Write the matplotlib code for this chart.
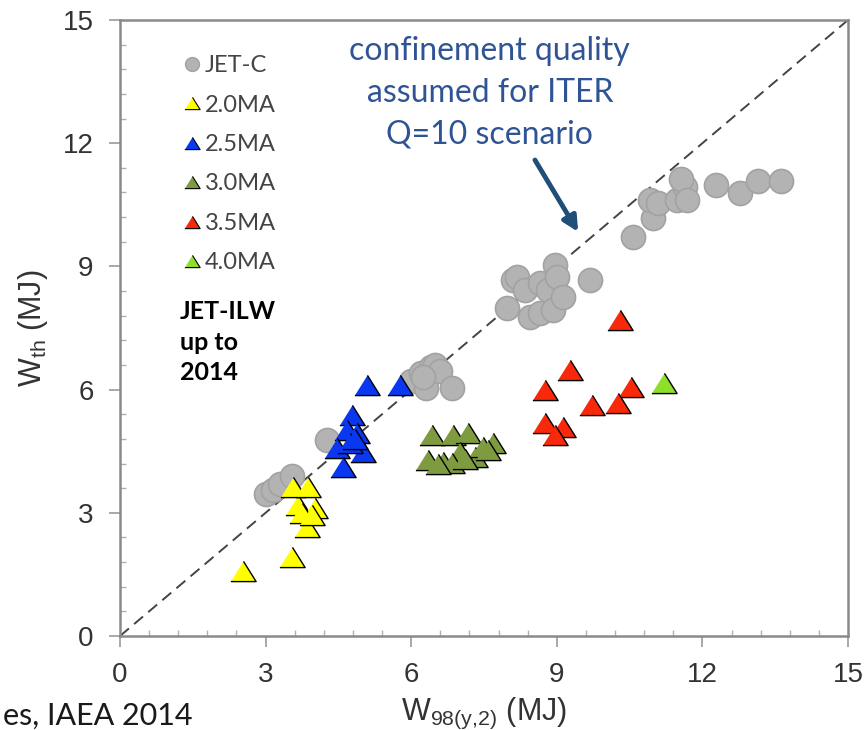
import matplotlib
matplotlib.use("Agg")
import matplotlib.pyplot as plt
from matplotlib.lines import Line2D
import numpy as np

plt.rcParams['font.family'] = ['Liberation Sans', 'DejaVu Sans']
plt.rcParams['mathtext.fontset'] = 'custom'
plt.rcParams['mathtext.rm'] = 'Liberation Sans'
plt.rcParams['mathtext.it'] = 'Liberation Sans'

# ---------------- data ----------------
jetc_x = [3.0, 3.15, 3.3, 3.55, 4.27,
          6.0, 6.2, 6.3, 6.4, 6.5, 6.6, 6.85, 6.25,
          7.98, 8.10, 8.19, 8.35, 8.45, 8.66, 8.66, 8.82, 8.93, 8.97, 9.01, 9.13, 9.69,
          10.58, 10.99, 10.93, 11.09, 11.48, 11.65, 11.55, 11.69, 12.27, 12.78, 13.15, 13.61]
jetc_y = [3.45, 3.55, 3.7, 3.9, 4.77,
          6.2, 6.4, 6.05, 6.55, 6.6, 6.45, 6.05, 6.3,
          7.98, 8.66, 8.73, 8.42, 7.76, 7.86, 8.59, 8.42, 7.93, 9.03, 8.73, 8.25, 8.66,
          9.71, 10.17, 10.61, 10.54, 10.61, 10.93, 11.14, 10.61, 10.97, 10.78, 11.09, 11.09]

ma20_x = [2.54, 3.55, 3.85, 3.67, 4.02, 3.57, 3.88, 3.75, 3.95]
ma20_y = [1.58, 1.92, 2.65, 3.19, 3.11, 3.63, 3.63, 3.0, 2.95]

ma25_x = [5.09, 5.77, 4.78, 4.68, 4.89, 4.47, 5.01, 4.60, 4.74, 4.85]
ma25_y = [6.10, 6.10, 5.38, 5.01, 4.94, 4.57, 4.48, 4.11, 4.70, 4.80]

ma30_x = [6.43, 6.87, 7.18, 7.69, 6.35, 6.66, 7.01, 7.32, 7.48, 6.85, 7.58, 6.55, 7.10]
ma30_y = [4.89, 4.89, 4.94, 4.70, 4.28, 4.23, 4.48, 4.36, 4.60, 4.21, 4.52, 4.18, 4.30]

ma35_x = [10.31, 9.28, 8.76, 10.52, 9.73, 10.27, 8.76, 9.13, 8.97]
ma35_y = [7.69, 6.47, 5.99, 6.06, 5.62, 5.67, 5.18, 5.09, 4.89]

ma40_x = [11.2]
ma40_y = [6.15]

series_labels = ['JET-C', '2.0MA', '2.5MA', '3.0MA', '3.5MA', '4.0MA']
ticks = [0, 3, 6, 9, 12, 15]

# ---------------- figure ----------------
fig = plt.figure(figsize=(8.67, 7.30), dpi=100)
ax = fig.add_axes([120/867, (730-636)/730, 728/867, 616/730])
ax.set_xlim(0, 15)
ax.set_ylim(0, 15)

tri = [(-1.25, -1.0), (1.25, -1.0), (0.0, 1.0)]

ax.plot([0, 15], [0, 15], ls=(0, (6, 3.5)), color='#444444', lw=1.4, zorder=1)

ax.scatter(jetc_x, jetc_y, s=300, c='#b3b3b3', edgecolors='#a2a2a2', linewidths=1.2, zorder=2)
tri_series = [(ma20_x, ma20_y, '#ffff00'), (ma25_x, ma25_y, '#0a37f0'),
              (ma30_x, ma30_y, '#7f9b3f'), (ma35_x, ma35_y, '#f8290a'),
              (ma40_x, ma40_y, '#8ede2a')]
for xs, ys, col in tri_series:
    ax.scatter(xs, ys, s=330, marker=tri, c=col, edgecolors='black', linewidths=1.0, zorder=3)

# axes styling
for side in ['left', 'bottom', 'top', 'right']:
    ax.spines[side].set_color('#8a8a8a')
    ax.spines[side].set_linewidth(1.8)
ax.set_xticks(ticks)
ax.set_yticks(ticks)
ax.set_xticks(np.arange(0, 15.01, 0.6), minor=True)
ax.set_yticks(np.arange(0, 15.01, 0.6), minor=True)
ax.tick_params(which='major', direction='out', length=8, width=1.2, color='#9a9a9a',
               labelsize=20, labelcolor='#333333', pad=11)
ax.tick_params(which='minor', direction='in', length=4, width=1.0, color='#b0b0b0')

ax.set_xlabel(r'W$_{\mathregular{98(y{,}2)}}$ (MJ)', fontsize=22, color='#333333')
ax.set_ylabel(r'W$_{\mathregular{th}}$ (MJ)', fontsize=22, color='#333333')
ax.xaxis.set_label_coords(0.5, (636-696)/616)
ax.yaxis.set_label_coords((50-120)/728, 0.5)

# legend
handles = [Line2D([], [], ls='', marker='o', ms=10, mfc='#b3b3b3', mec='#a2a2a2')]
for _, _, col in tri_series:
    handles.append(Line2D([], [], ls='', marker=tri, ms=11, mfc=col, mec='black', mew=0.8))
leg = ax.legend(handles, series_labels, loc='upper left', bbox_to_anchor=(0.0885, 0.943),
                frameon=False, prop={'family': 'Lato', 'size': 17}, labelcolor='#444444',
                handlelength=0.6, handletextpad=0.25, labelspacing=0.78, borderpad=0,
                borderaxespad=0)

ax.text(1.24, 8.18, 'JET-ILW\nup to\n2014', fontsize=18, fontweight='bold',
        family='Lato', color='black', va='top', ha='left', linespacing=1.4)

ax.text(7.62, 14.6, 'confinement quality\nassumed for ITER\nQ=10 scenario',
        fontsize=23, family='Lato', color='#2F5496', ha='center', va='top', linespacing=1.48)
ax.annotate('', xy=(9.44, 9.84), xytext=(8.55, 11.59),
            arrowprops=dict(arrowstyle='-|>,head_length=0.9,head_width=0.45', lw=3.5,
                            color='#1F4E79', shrinkA=0, shrinkB=0))

fig.text(0.003, 0.007, 'es, IAEA 2014', fontsize=22, family='Lato', color='#1a1a1a',
         ha='left', va='baseline')

fig.savefig('out.png', dpi=100)
